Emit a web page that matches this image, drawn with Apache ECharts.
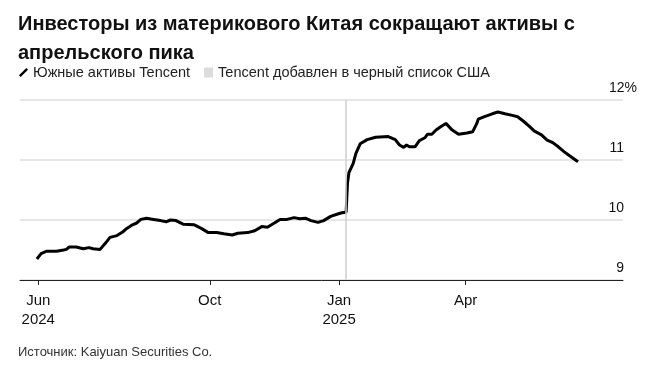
<!DOCTYPE html>
<html>
<head>
<meta charset="utf-8">
<script src="https://cdn.jsdelivr.net/npm/echarts@6/dist/echarts.min.js"></script>
<style>
  html, body { margin: 0; padding: 0; background: #fff; }
  #main { width: 671px; height: 378px; }
</style>
</head>
<body>
<div id="main"></div>
<script>
// Южные активы Tencent, %
const dates = [
  '2024-05-31', '2024-06-03', '2024-06-07', '2024-06-14', '2024-06-19', '2024-06-21',
  '2024-06-23', '2024-06-28', '2024-07-03', '2024-07-07', '2024-07-10', '2024-07-15',
  '2024-07-19', '2024-07-22', '2024-07-27', '2024-07-31', '2024-08-03', '2024-08-07',
  '2024-08-10', '2024-08-13', '2024-08-17', '2024-08-22', '2024-08-27', '2024-08-31',
  '2024-09-03', '2024-09-07', '2024-09-12', '2024-09-20', '2024-09-25', '2024-09-30',
  '2024-10-06', '2024-10-11', '2024-10-17', '2024-10-21', '2024-10-28', '2024-11-02',
  '2024-11-07', '2024-11-11', '2024-11-16', '2024-11-20', '2024-11-25', '2024-11-30',
  '2024-12-04', '2024-12-08', '2024-12-12', '2024-12-17', '2024-12-21', '2024-12-26',
  '2024-12-31', '2025-01-03', '2025-01-06', '2025-01-07', '2025-01-08', '2025-01-11',
  '2025-01-13', '2025-01-16', '2025-01-21', '2025-01-27', '2025-02-05', '2025-02-10',
  '2025-02-13', '2025-02-16', '2025-02-18', '2025-02-20', '2025-02-24', '2025-02-27',
  '2025-03-03', '2025-03-05', '2025-03-08', '2025-03-11', '2025-03-14', '2025-03-18',
  '2025-03-22', '2025-03-27', '2025-04-02', '2025-04-06', '2025-04-09', '2025-04-10',
  '2025-04-14', '2025-04-20', '2025-04-24', '2025-04-29', '2025-05-05', '2025-05-08',
  '2025-05-12', '2025-05-16', '2025-05-20', '2025-05-25', '2025-05-29', '2025-06-02',
  '2025-06-06', '2025-06-10', '2025-06-14', '2025-06-20'
];
const values = [
  9.35, 9.44, 9.48, 9.48, 9.50, 9.51,
  9.55, 9.55, 9.52, 9.54, 9.52, 9.51,
  9.62, 9.71, 9.74, 9.80, 9.86, 9.92,
  9.95, 10.01, 10.03, 10.01, 9.99, 9.97,
  10.00, 9.99, 9.93, 9.92, 9.86, 9.79,
  9.79, 9.77, 9.75, 9.78, 9.79, 9.82,
  9.89, 9.88, 9.95, 10.01, 10.01, 10.04,
  10.02, 10.03, 9.99, 9.96, 9.99, 10.06,
  10.10, 10.12, 10.13, 10.61, 10.79, 10.94,
  11.11, 11.27, 11.34, 11.38, 11.39, 11.34,
  11.25, 11.21, 11.25, 11.22, 11.22, 11.32,
  11.37, 11.43, 11.43, 11.50, 11.55, 11.61,
  11.51, 11.43, 11.45, 11.47, 11.61, 11.68,
  11.72, 11.77, 11.80, 11.77, 11.74, 11.72,
  11.65, 11.57, 11.48, 11.42, 11.33, 11.29,
  11.22, 11.14, 11.07, 10.97
];

const blacklistDate = '2025-01-06';
const xTicks = ['2024-06-01', '2024-10-01', '2025-01-01', '2025-04-01'];
const xTickLabels = ['Jun\n2024', 'Oct', 'Jan\n2025', 'Apr'];
const yTicks = [9, 10, 11, 12];
const yTickLabels = ['9', '10', '11', '12%'];

const FONT = "'Liberation Sans', Arial, sans-serif";
const chart = echarts.init(document.getElementById('main'), null, { renderer: 'canvas' });

function toTime(d) {
  return Date.UTC(+d.slice(0, 4), +d.slice(5, 7) - 1, +d.slice(8, 10));
}
const tickTimes = xTicks.map(toTime);

var option = {
  animation: false,
  backgroundColor: '#fff',
  title: {
    text: 'Инвесторы из материкового Китая сокращают активы с\nапрельского пика',
    left: 13,
    top: 5,
    textStyle: {
      fontFamily: FONT,
      fontSize: 20,
      fontWeight: 'bold',
      color: '#111',
      lineHeight: 29
    }
  },
  legend: {
    left: 14,
    top: 60,
    itemGap: 14,
    itemWidth: 9,
    itemHeight: 10,
    textStyle: { fontFamily: FONT, fontSize: 14.5, color: '#222' },
    data: [
      { name: 'Южные активы Tencent', icon: 'path://M0,9 L2,11 L11,2 L9,0 Z', itemStyle: { color: '#000' } },
      { name: 'Tencent добавлен в черный список США', icon: 'rect', itemStyle: { color: '#dcdcdc' } }
    ]
  },
  graphic: [{
    type: 'text',
    left: 18,
    top: 346,
    style: {
      text: 'Источник: Kaiyuan Securities Co.',
      fontFamily: FONT,
      fontSize: 13,
      fill: '#333'
    }
  }],
  grid: {
    left: 20,
    right: 48,
    top: 100,
    bottom: 98
  },
  xAxis: {
    type: 'value',
    min: toTime('2024-05-19'),
    max: toTime('2025-07-22'),
    axisLine: { lineStyle: { color: '#222', width: 1 } },
    axisTick: {
      show: true,
      customValues: tickTimes,
      length: 5,
      lineStyle: { color: '#222' }
    },
    axisLabel: {
      customValues: tickTimes,
      fontFamily: FONT,
      fontSize: 15,
      color: '#111',
      lineHeight: 19,
      margin: 11,
      formatter: function (val) {
        var i = tickTimes.indexOf(val);
        return i >= 0 ? xTickLabels[i] : '';
      }
    },
    splitLine: { show: false }
  },
  yAxis: {
    type: 'value',
    position: 'right',
    min: 9,
    max: 12,
    interval: 1,
    axisLine: { show: false },
    axisTick: { show: false },
    axisLabel: {
      inside: true,
      margin: -14,
      verticalAlign: 'bottom',
      padding: [0, 0, 5, 0],
      fontFamily: FONT,
      fontSize: 14,
      color: '#111',
      formatter: function (val) {
        var i = yTicks.indexOf(val);
        var t = i >= 0 ? yTickLabels[i] : String(val);
        if (t.indexOf('%') >= 0) return '{n|' + t.replace('%', '') + '}{n|%}';
        return '{n|' + t + '}{s| }';
      },
      rich: {
        n: { fontFamily: FONT, fontSize: 14, color: '#111' },
        s: { fontFamily: FONT, fontSize: 14, width: 13 }
      }
    },
    splitLine: { lineStyle: { color: '#dedede', width: 1.5 } }
  },
  series: [
    {
      name: 'Южные активы Tencent',
      type: 'line',
      data: dates.map(function (d, i) { return [toTime(d), values[i]]; }),
      showSymbol: false,
      smooth: false,
      lineStyle: { color: '#000', width: 3 },
      itemStyle: { color: '#000' },
      z: 3
    },
    {
      name: 'Tencent добавлен в черный список США',
      type: 'line',
      data: [],
      itemStyle: { color: '#dcdcdc' },
      markLine: {
        silent: true,
        symbol: ['none', 'none'],
        label: { show: false },
        lineStyle: { color: '#cfcfcf', width: 1.5, type: 'solid' },
        data: [{ xAxis: toTime(blacklistDate) }]
      },
      z: 1
    }
  ]
};

chart.setOption(option);
</script>
</body>
</html>
